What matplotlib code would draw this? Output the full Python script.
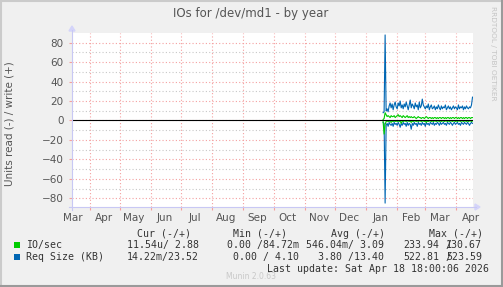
import matplotlib
matplotlib.use("Agg")
import matplotlib.pyplot as plt
import matplotlib.dates as mdates
from matplotlib.patches import Polygon, Rectangle
from matplotlib.lines import Line2D
import numpy as np
import pandas as pd

# ---------------- data ----------------
title = "IOs for /dev/md1 - by year"
ylabel = "Units read (-) / write (+)"
start_date = "2026-01-18"
step = "1D"

io_write = [1, 2, 8, 6, 4, 5, 4, 3, 5, 4,
            4, 5, 3, 4, 5, 6, 4, 5, 4, 3,
            5, 4, 3, 4, 5, 3, 4, 3, 4, 3,
            3, 4, 3, 2, 3, 4, 3, 3, 2, 3,
            3, 2, 3, 4, 3, 2, 3, 3, 2, 3,
            2, 3, 3, 2, 3, 2, 3, 3, 2, 3,
            3, 2, 3, 2, 3, 3, 2, 3, 2, 3,
            3, 2, 3, 3, 2, 3, 2, 3, 3, 2,
            3, 2, 3, 3, 2, 3, 3, 2, 3, 3]
io_read = [-1, -14, -4, -1, -0.5, -1, -0.5, -1, -2, -0.5,
           -1, -0.5, -1, -0.5, -1, -0.5, -1, -0.5, -3, -0.5,
           -1, -0.5, -0.5, -1, -0.5, -0.5, -1, -0.5, -2, -0.5,
           -1, -0.5, -0.5, -1, -0.5, -1, -0.5, -0.5, -1, -0.5,
           -0.5, -1, -0.5, -2, -0.5, -1, -0.5, -0.5, -1, -0.5,
           -1, -0.5, -0.5, -1, -0.5, -0.5, -1, -0.5, -1, -0.5,
           -0.5, -1, -0.5, -0.5, -1, -0.5, -1, -0.5, -0.5, -1,
           -0.5, -0.5, -1, -0.5, -1, -0.5, -0.5, -1, -0.5, -0.5,
           -1, -0.5, -0.5, -1, -0.5, -1, -0.5, -0.5, -1, -0.5]
req_write = [8, 9, 88, 10, 12, 9, 15, 18, 13, 17,
             11, 16, 19, 14, 12, 18, 15, 20, 13, 16,
             12, 17, 14, 19, 15, 11, 16, 21, 13, 17,
             15, 12, 18, 14, 16, 11, 19, 13, 15, 22,
             16, 14, 12, 15, 13, 17, 11, 14, 16, 12,
             13, 15, 11, 14, 12, 16, 13, 11, 15, 12,
             14, 13, 16, 11, 13, 15, 12, 14, 11, 13,
             15, 12, 14, 13, 11, 16, 12, 14, 13, 15,
             11, 14, 12, 15, 13, 12, 14, 13, 16, 24]
req_read = [-2, -3, -85, -5, -3, -6, -2, -4, -5, -3,
            -6, -2, -4, -3, -5, -2, -4, -7, -3, -5,
            -2, -4, -3, -6, -2, -5, -3, -4, -9, -3,
            -5, -2, -4, -3, -6, -2, -4, -3, -5, -2,
            -4, -3, -6, -2, -4, -3, -5, -2, -3, -4,
            -2, -5, -3, -4, -2, -3, -5, -2, -4, -3,
            -2, -4, -3, -5, -2, -3, -4, -2, -3, -5,
            -3, -2, -4, -3, -2, -4, -3, -5, -2, -3,
            -4, -2, -3, -4, -2, -3, -5, -3, -2, -3]

yticks = [-80, -60, -40, -20, 0, 20, 40, 60, 80]

legend_names = ["IO/sec", "Req Size (KB)"]
legend_colors = ["#00CC00", "#0066B3"]
cur_vals = ["11.54u/ 2.88", "14.22m/23.52"]
min_vals = ["0.00 /84.72m", "0.00 / 4.10"]
avg_vals = ["546.04m/ 3.09", "3.80 /13.40"]
max_left = ["233.94", "522.81"]
max_right = ["130.67", "523.59"]
last_update = "Last update: Sat Apr 18 18:00:06 2026"

# ---------------- figure ----------------
W, H = 503, 287
fig = plt.figure(figsize=(W / 100, H / 100), dpi=100, facecolor="#F0F0F0")

def fx(px):
    return px / W

def fy(py):
    return 1 - py / H

L, R, T, B = 72, 473, 33, 207
ax = fig.add_axes([fx(L), fy(B), fx(R) - fx(L), fy(T) - fy(B)])
ax.set_facecolor("white")

dates = pd.date_range(start_date, periods=len(io_write), freq=step)
ax.plot(dates, req_write, color=legend_colors[1], lw=0.8, zorder=3)
ax.plot(dates, req_read, color=legend_colors[1], lw=0.8, zorder=3)
ax.plot(dates, io_write, color=legend_colors[0], lw=0.8, zorder=4)
ax.plot(dates, io_read, color=legend_colors[0], lw=0.8, zorder=4)
ax.axhline(0, color="black", lw=0.8, zorder=5)

ax.set_xlim(pd.Timestamp("2025-03-14 06:00"), pd.Timestamp("2026-04-17 12:00"))
ax.set_ylim(-89, 90)

# grids
ax.xaxis.set_major_locator(mdates.MonthLocator())
ax.xaxis.set_major_formatter(plt.NullFormatter())
ax.xaxis.set_minor_locator(mdates.MonthLocator(bymonthday=15))
ax.xaxis.set_minor_formatter(mdates.DateFormatter("%b"))
ax.set_yticks(yticks)
ax.set_yticks(np.arange(-80, 90, 10), minor=True)
ax.grid(which="major", axis="both", color="#F4A0A0", linestyle=(0, (1, 2)), lw=0.8, zorder=1)
ax.grid(which="minor", axis="y", color="#C8C8C8", linestyle=(0, (1, 2)), lw=0.8, zorder=0)
ax.tick_params(axis="x", which="minor", length=0, labelsize=7.5, labelcolor="#555555", pad=4)
ax.tick_params(axis="x", which="major", length=2, color="#F4A0A0", direction="out")
ax.tick_params(axis="y", which="major", length=2, color="#F4A0A0", labelsize=7.5, labelcolor="#555555", pad=4)
ax.tick_params(axis="y", which="minor", length=0)

for s in ax.spines.values():
    s.set_visible(False)

# axes with arrows
axcol = "#C8C8F4"
fig.add_artist(Line2D([fx(L), fx(L)], [fy(B + 3), fy(T - 3)], color=axcol, lw=0.8))
fig.add_artist(Line2D([fx(L - 3), fx(R + 3)], [fy(B), fy(B)], color=axcol, lw=0.8))
fig.add_artist(Polygon([[fx(L - 3), fy(T - 2)], [fx(L + 3), fy(T - 2)], [fx(L), fy(T - 7)]],
                       closed=True, color="#D4D4FA"))
fig.add_artist(Polygon([[fx(R + 2), fy(B - 3)], [fx(R + 2), fy(B + 3)], [fx(R + 7), fy(B)]],
                       closed=True, color="#D4D4FA"))

# texts
fig.text(fx(251), fy(14), title, ha="center", va="center", fontsize=8.5, color="#555555",
         family="DejaVu Sans")
fig.text(fx(10), fy(124), ylabel, ha="center", va="center", rotation=90, fontsize=7.5,
         color="#555555", family="DejaVu Sans")
fig.text(fx(492.5), fy(6), "RRDTOOL / TOBI OETIKER", ha="center", va="top", rotation=270,
         fontsize=5.3, color="#C4C4C4", family="DejaVu Sans")

mono = dict(family="DejaVu Sans Mono", fontsize=7.1, color="#333333", va="center")
hy = 234
fig.text(fx(136.7), fy(hy), "Cur (-/+)", ha="left", **mono)
fig.text(fx(233.3), fy(hy), "Min (-/+)", ha="left", **mono)
fig.text(fx(331), fy(hy), "Avg (-/+)", ha="left", **mono)
fig.text(fx(428.7), fy(hy), "Max (-/+)", ha="left", **mono)

rows_y = [245.3, 256.7]
for i, ry in enumerate(rows_y):
    fig.add_artist(Rectangle((fx(14), fy(ry + 3)), fx(6), fy(ry - 3) - fy(ry + 3),
                             facecolor=legend_colors[i], edgecolor="none"))
    fig.text(fx(26), fy(ry), legend_names[i], ha="left", **mono)
    fig.text(fx(198.7), fy(ry), cur_vals[i], ha="right", **mono)
    fig.text(fx(299), fy(ry), min_vals[i], ha="right", **mono)
    fig.text(fx(384), fy(ry), avg_vals[i], ha="right", **mono)
    fig.text(fx(403.7), fy(ry), max_left[i], ha="left", **mono)
    fig.text(fx(482), fy(ry), max_right[i], ha="right", **mono)
    fig.text(fx(445.7), fy(ry), "/", ha="left", **mono)

fig.text(fx(489), fy(269.3), last_update, ha="right", **mono)
fig.text(fx(251), fy(276.7), "Munin 2.0.63", ha="center", va="center", fontsize=5.5,
         color="#C8C8C8", family="DejaVu Sans")

# frame
fig.add_artist(Line2D([0, 1], [fy(0.5), fy(0.5)], color="#CBCBCB", lw=1.5))
fig.add_artist(Line2D([fx(0.5), fx(0.5)], [0, 1], color="#CBCBCB", lw=1.5))
fig.add_artist(Line2D([0, 1], [fy(H - 1), fy(H - 1)], color="#9A9A9A", lw=1.5))
fig.add_artist(Line2D([fx(W - 1), fx(W - 1)], [0, 1], color="#9A9A9A", lw=1.5))

fig.savefig("out.png", dpi=100, facecolor=fig.get_facecolor())
